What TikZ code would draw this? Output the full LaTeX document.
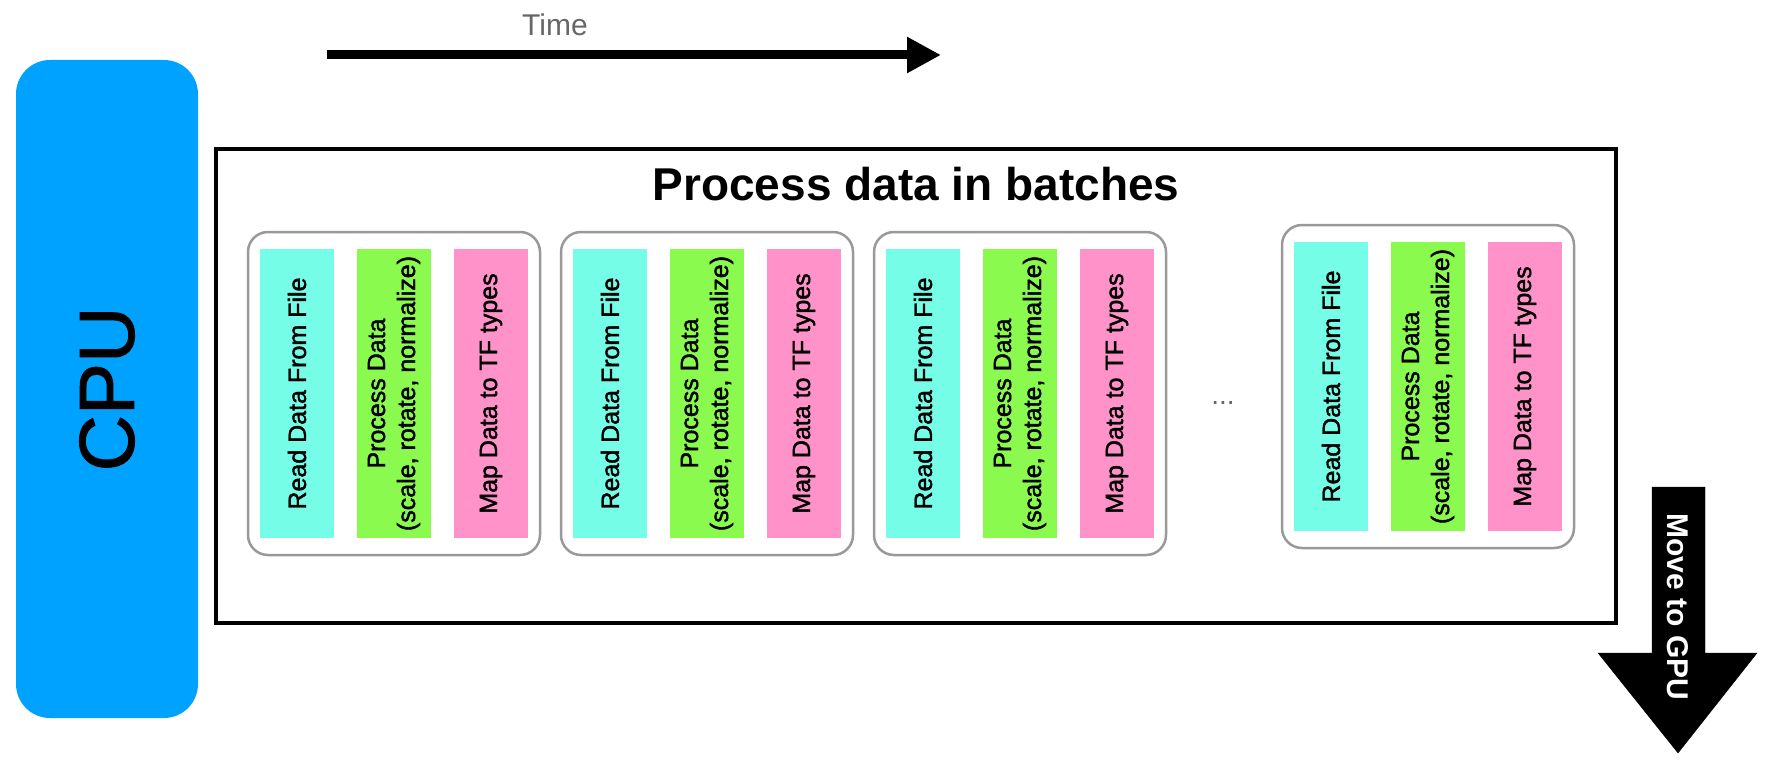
\documentclass[tikz,border=0pt]{standalone}
\usepackage{fontspec}
\setmainfont{Liberation Sans}
\newfontfamily\medfont[FakeBold=1.6]{Liberation Sans}
\newfontfamily\cpufont[FakeBold=1.2]{Liberation Sans}
\usetikzlibrary{arrows.meta}
\definecolor{cpublue}{RGB}{0,162,255}
\definecolor{barcyan}{RGB}{118,253,232}
\definecolor{bargreen}{RGB}{138,250,78}
\definecolor{barpink}{RGB}{255,147,201}
\definecolor{boxgray}{RGB}{153,153,153}
\definecolor{timegray}{RGB}{102,102,102}
\begin{document}
\begin{tikzpicture}[x=1pt,y=-1pt,
  batchbox/.style={draw=boxgray, line width=2.5pt, rounded corners=20pt, minimum width=292pt, minimum height=323pt, inner sep=0pt},
  bar/.style={rotate=90, minimum width=289pt, minimum height=74pt, inner sep=0pt, font=\medfont\fontsize{25}{30}\selectfont, align=center},
  outerbox/.style={draw, line width=4pt, minimum width=1400pt, minimum height=474pt, inner sep=0pt},
  cpubox/.style={fill=cpublue, rounded corners=34pt, rotate=90, minimum width=658pt, minimum height=182pt, inner sep=0pt, font=\cpufont\fontsize{78}{90}\selectfont},
  timearrow/.style={line width=9pt, -{Triangle[length=34pt,width=34pt]}},
  gpuarrow/.style={fill=black},
  gputext/.style={rotate=-90, text=white, font=\bfseries\fontsize{30}{36}\selectfont, inner sep=0pt}
]
\useasboundingbox (0,0) rectangle (1767,773);

% CPU
\node[cpubox] (cpu) at (107,389) {CPU};

% Time arrow
\node[anchor=base, text=timegray, font=\fontsize{30}{36}\selectfont] (time) at (555,36) {Time};
\coordinate (t0) at (327,55);
\coordinate (t1) at (941,55);
\draw[timearrow] (t0) -- (t1);

% Outer box
\node[outerbox] (outer) at (916,386) {};
\node[anchor=base, font=\bfseries\fontsize{46}{54}\selectfont] (title) at (916,200) {Process data in batches};

% Batches
\foreach \i/\bx/\by in {1/248/232, 2/561/232, 3/874/232, 4/1282/225} {
  \node[batchbox] (b\i) at (\bx+146,\by+161.5) {};
  \node[bar, fill=barcyan] (b\i r) at (\bx+49,\by+161.5) {Read Data From File};
  \node[bar, fill=bargreen] (b\i p) at (\bx+146,\by+161.5) {Process Data\\(scale, rotate, normalize)};
  \node[bar, fill=barpink] (b\i m) at (\bx+243,\by+161.5) {Map Data to TF types};
}

% dots
\node[anchor=base, text=timegray, font=\fontsize{28}{32}\selectfont] (dots) at (1223,404) {...};

% Move to GPU arrow
\draw[gpuarrow] (1652,487) -- (1705,487) -- (1705,653) -- (1757,653) -- (1678,753) -- (1598,653) -- (1652,653) -- cycle;
\node[gputext] (gpu) at (1678,607) {Move to GPU};
\end{tikzpicture}
\end{document}
